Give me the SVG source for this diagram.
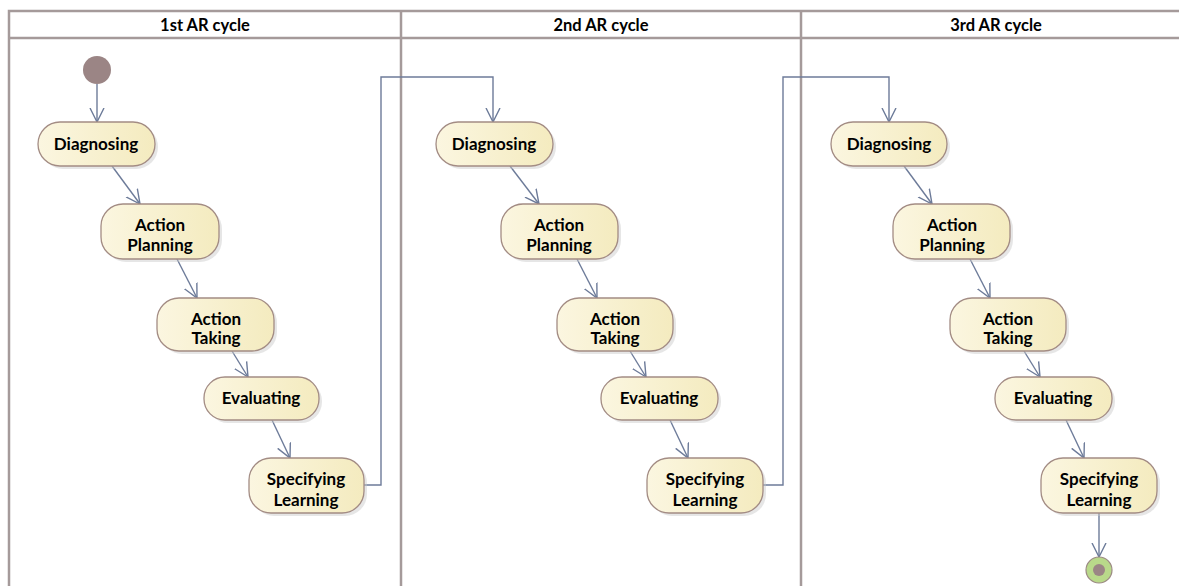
<svg xmlns="http://www.w3.org/2000/svg" width="1179" height="586" viewBox="0 0 1179 586">
<style>
.lane{fill:none;stroke:#a59a9a;stroke-width:2.5}
.hdr{font-family:Lato,"Liberation Sans",sans-serif;font-weight:bold;font-size:16.5px;fill:#000;text-anchor:middle}
.act rect.b{fill:url(#g);stroke:#a38c84;stroke-width:1.3}
.act rect.s{fill:#c8c8c8;opacity:0.45}
.act text{font-family:Lato,"Liberation Sans",sans-serif;font-weight:bold;font-size:17px;fill:#000;text-anchor:middle}
.c{fill:none;stroke:#6d7b99;stroke-width:1.4;marker-end:url(#arr)}
</style>
<defs>
<linearGradient id="g" x1="0" y1="0" x2="1" y2="0">
<stop offset="0" stop-color="#fbf6e0"/>
<stop offset="1" stop-color="#f4ebbf"/>
</linearGradient>
<marker id="arr" markerUnits="userSpaceOnUse" markerWidth="16" markerHeight="16" refX="14" refY="7" orient="auto" viewBox="0 0 16 14">
<path d="M0,0 L14,7 L0,14" fill="none" stroke="#6d7b99" stroke-width="1.4"/>
</marker>
</defs>
<rect width="1179" height="586" fill="#fff"/>
<g id="lanes">
<path class="lane" d="M9,586 V11 H1179 M9,38 H1179 M401,11 V586 M801,11 V586"/>
<text class="hdr" x="205" y="31">1st AR cycle</text>
<text class="hdr" x="601" y="31">2nd AR cycle</text>
<text class="hdr" x="996" y="31">3rd AR cycle</text>
</g>
<g id="connectors">
<path class="c" d="M97,84 V122"/>
<path class="c" d="M112,166 L140,204"/>
<path class="c" d="M177,259 L197,298"/>
<path class="c" d="M232,351 L248,377"/>
<path class="c" d="M272,420 L290,458"/>
<path class="c" d="M364,485 H381 V77 H493 V122"/>
<path class="c" d="M510,166 L539,204"/>
<path class="c" d="M577,259 L597,298"/>
<path class="c" d="M630,351 L646,377"/>
<path class="c" d="M670,420 L688,458"/>
<path class="c" d="M763,485 H783 V77 H889 V122"/>
<path class="c" d="M904,166 L932,204"/>
<path class="c" d="M970,259 L990,298"/>
<path class="c" d="M1024,351 L1040,377"/>
<path class="c" d="M1066,420 L1084,458"/>
<path class="c" d="M1099,513 V557"/>
</g>
<g id="start"><circle cx="97" cy="70" r="14" fill="#9b8585"/></g>
<g id="end"><circle cx="1099" cy="570" r="13" fill="#b9d98a" stroke="#9c8a84" stroke-width="1.2"/><circle cx="1099" cy="570" r="6" fill="#9b8585"/></g>

<g id="diag1" class="act"><rect class="s" x="41" y="125" width="117" height="44" rx="22"/><rect class="b" x="38" y="122" width="117" height="44" rx="22"/><text x="96" y="150">Diagnosing</text></g>
<g id="plan1" class="act"><rect class="s" x="104" y="207" width="118" height="55" rx="22"/><rect class="b" x="101" y="204" width="118" height="55" rx="22"/><text x="160" y="231">Action</text><text x="160" y="251">Planning</text></g>
<g id="take1" class="act"><rect class="s" x="160" y="301" width="117" height="53" rx="22"/><rect class="b" x="157" y="298" width="117" height="53" rx="22"/><text x="216" y="325">Action</text><text x="216" y="344">Taking</text></g>
<g id="eval1" class="act"><rect class="s" x="207" y="380" width="115" height="43" rx="21"/><rect class="b" x="204" y="377" width="115" height="43" rx="21"/><text x="261" y="404">Evaluating</text></g>
<g id="spec1" class="act"><rect class="s" x="252" y="461" width="115" height="55" rx="22"/><rect class="b" x="249" y="458" width="115" height="55" rx="22"/><text x="306" y="485">Specifying</text><text x="306" y="506">Learning</text></g>

<g id="diag2" class="act"><rect class="s" x="439" y="125" width="117" height="44" rx="22"/><rect class="b" x="436" y="122" width="117" height="44" rx="22"/><text x="494" y="150">Diagnosing</text></g>
<g id="plan2" class="act"><rect class="s" x="504" y="207" width="117" height="55" rx="22"/><rect class="b" x="501" y="204" width="117" height="55" rx="22"/><text x="559" y="231">Action</text><text x="559" y="251">Planning</text></g>
<g id="take2" class="act"><rect class="s" x="560" y="301" width="116" height="53" rx="22"/><rect class="b" x="557" y="298" width="116" height="53" rx="22"/><text x="615" y="325">Action</text><text x="615" y="344">Taking</text></g>
<g id="eval2" class="act"><rect class="s" x="604" y="380" width="117" height="43" rx="21"/><rect class="b" x="601" y="377" width="117" height="43" rx="21"/><text x="659" y="404">Evaluating</text></g>
<g id="spec2" class="act"><rect class="s" x="650" y="461" width="116" height="55" rx="22"/><rect class="b" x="647" y="458" width="116" height="55" rx="22"/><text x="705" y="485">Specifying</text><text x="705" y="506">Learning</text></g>

<g id="diag3" class="act"><rect class="s" x="834" y="125" width="116" height="44" rx="22"/><rect class="b" x="831" y="122" width="116" height="44" rx="22"/><text x="889" y="150">Diagnosing</text></g>
<g id="plan3" class="act"><rect class="s" x="896" y="207" width="117" height="55" rx="22"/><rect class="b" x="893" y="204" width="117" height="55" rx="22"/><text x="952" y="231">Action</text><text x="952" y="251">Planning</text></g>
<g id="take3" class="act"><rect class="s" x="953" y="301" width="116" height="53" rx="22"/><rect class="b" x="950" y="298" width="116" height="53" rx="22"/><text x="1008" y="325">Action</text><text x="1008" y="344">Taking</text></g>
<g id="eval3" class="act"><rect class="s" x="998" y="380" width="117" height="43" rx="21"/><rect class="b" x="995" y="377" width="117" height="43" rx="21"/><text x="1053" y="404">Evaluating</text></g>
<g id="spec3" class="act"><rect class="s" x="1044" y="461" width="116" height="55" rx="22"/><rect class="b" x="1041" y="458" width="116" height="55" rx="22"/><text x="1099" y="485">Specifying</text><text x="1099" y="506">Learning</text></g>
</svg>
